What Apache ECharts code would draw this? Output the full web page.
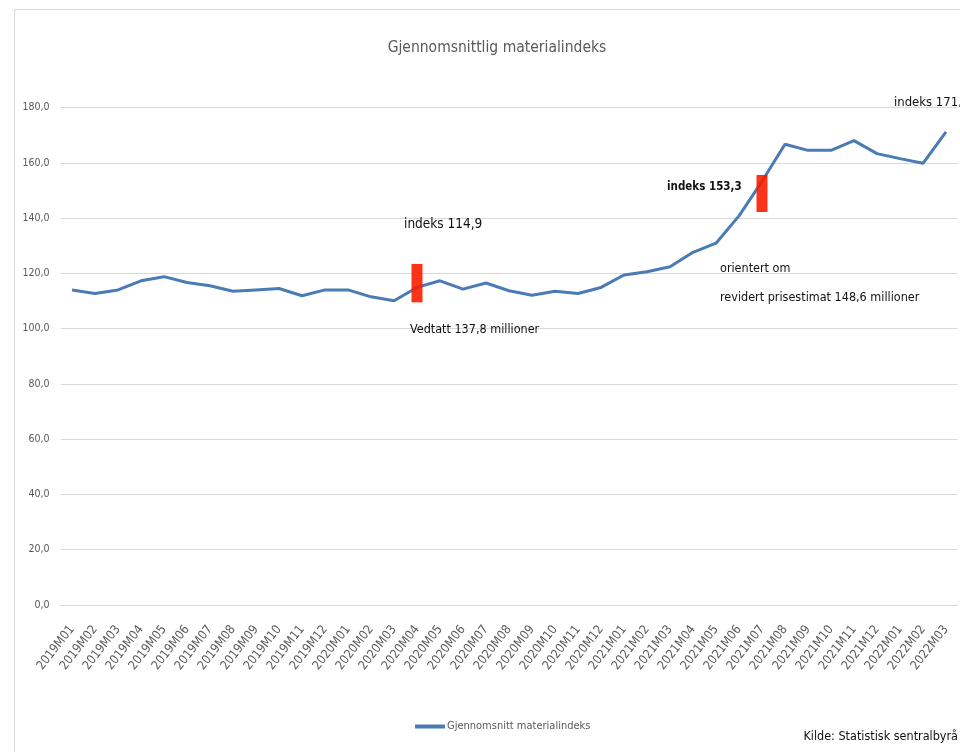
<!DOCTYPE html>
<html>
<head>
<meta charset="utf-8">
<title>Gjennomsnittlig materialindeks</title>
<script src="https://cdn.jsdelivr.net/npm/echarts@6/dist/echarts.min.js"></script>
<style>
  html, body { margin: 0; padding: 0; background: #fff; }
  #chart { width: 960px; height: 752px; }
</style>
</head>
<body>
<div id="chart"></div>
<script>
// månedene
var categories = [
  "2019M01","2019M02","2019M03","2019M04","2019M05","2019M06","2019M07","2019M08","2019M09","2019M10","2019M11","2019M12",
  "2020M01","2020M02","2020M03","2020M04","2020M05","2020M06","2020M07","2020M08","2020M09","2020M10","2020M11","2020M12",
  "2021M01","2021M02","2021M03","2021M04","2021M05","2021M06","2021M07","2021M08","2021M09","2021M10","2021M11","2021M12",
  "2022M01","2022M02","2022M03"
];
// gjennomsnitt materialindeks (lest av figuren)
var indeks = [
  114.0, 112.7, 114.0, 117.3, 118.8, 116.7, 115.5, 113.5, 114.0, 114.5, 111.9, 114.0,
  114.0, 111.5, 110.1, 114.9, 117.3, 114.3, 116.5, 113.7, 112.1, 113.5, 112.7, 114.9,
  119.4, 120.6, 122.4, 127.6, 130.9, 140.8, 153.3, 166.7, 164.5, 164.5, 168.0, 163.3,
  161.5, 159.8, 171.2
];
var yTicks = [0, 20, 40, 60, 80, 100, 120, 140, 160, 180];
// røde markeringer: [kategoriindeks, fra verdi, til verdi]
var markers = [
  [15.33, 109.5, 123.4],
  [29.73, 142.2, 155.6]
];

var font = "'DejaVu Sans Condensed', 'Liberation Sans Narrow', sans-serif";
var grey = "#595959";

var myChart = echarts.init(document.getElementById("chart"));
var option = {
  animation: false,
  textStyle: { fontFamily: font },
  title: {
    text: "Gjennomsnittlig materialindeks",
    left: 492,
    textAlign: "center",
    top: 35,
    textStyle: { fontFamily: font, fontSize: 15.5, fontWeight: "normal", color: grey }
  },
  legend: {
    data: ["Gjennomsnitt materialindeks"],
    left: 410,
    top: 716,
    icon: "rect",
    itemWidth: 30,
    itemHeight: 4,
    itemGap: 2,
    textStyle: { fontFamily: font, fontSize: 11, color: grey, padding: [0, 0, 0, -3] }
  },
  grid: {
    left: 60.5,
    width: 897,
    top: 107.5,
    height: 497.5
  },
  xAxis: {
    type: "category",
    data: categories,
    boundaryGap: true,
    axisLine: { lineStyle: { color: "#d9d9d9" } },
    axisTick: { show: false },
    axisLabel: {
      interval: 0,
      rotate: 52,
      margin: 22,
      fontFamily: font,
      fontSize: 12.5,
      color: grey
    }
  },
  yAxis: {
    type: "value",
    min: yTicks[0],
    max: yTicks[yTicks.length - 1],
    interval: 20,
    axisLine: { show: false },
    axisTick: { show: false },
    splitLine: { lineStyle: { color: "#d9d9d9", width: 1 } },
    axisLabel: {
      margin: 11,
      fontFamily: font,
      fontSize: 10.5,
      color: grey,
      formatter: function (v) { return v.toFixed(1).replace(".", ","); }
    }
  },
  series: [
    {
      name: "Gjennomsnitt materialindeks",
      type: "line",
      data: indeks,
      symbol: "none",
      lineStyle: { color: "#4a7bb4", width: 3 },
      itemStyle: { color: "#4a7bb4" },
      z: 3
    }
  ]
};
myChart.setOption(option);

// markeringer og tekster
var graphics = [
  {
    type: "rect",
    left: 12, top: 7,
    shape: { width: 1000, height: 800 },
    style: { fill: "none", stroke: "#d9d9d9", lineWidth: 1 },
    silent: true, z: -1
  }
];
markers.forEach(function (m) {
  var p1 = myChart.convertToPixel({ gridIndex: 0 }, [m[0], m[2]]);
  var p2 = myChart.convertToPixel({ gridIndex: 0 }, [m[0], m[1]]);
  graphics.push({
    type: "rect",
    shape: { x: p1[0] - 5.5, y: p1[1], width: 11, height: p2[1] - p1[1] },
    style: { fill: "rgba(248,30,0,0.9)" },
    z: 10
  });
});
function txt(x, y, s, bold, size, align) {
  return {
    type: "text", x: x, y: y, z: 11,
    style: {
      text: s, fill: "#111",
      font: (bold ? "bold " : "") + (size || 12.5) + "px " + font,
      align: align || "left",
      verticalAlign: "middle"
    }
  };
}
graphics.push(txt(404, 224, "indeks 114,9", false, 13.5));
graphics.push(txt(410, 330, "Vedtatt 137,8 millioner"));
graphics.push(txt(667, 187, "indeks 153,3", true, 11.5));
graphics.push(txt(720, 269, "orientert om"));
graphics.push(txt(720, 298, "revidert prisestimat 148,6 millioner"));
graphics.push(txt(894, 103, "indeks 171,2", false, 13));
graphics.push(txt(958, 737, "Kilde: Statistisk sentralbyrå", false, 12.5, "right"));
myChart.setOption({ graphic: graphics });
</script>
</body>
</html>
